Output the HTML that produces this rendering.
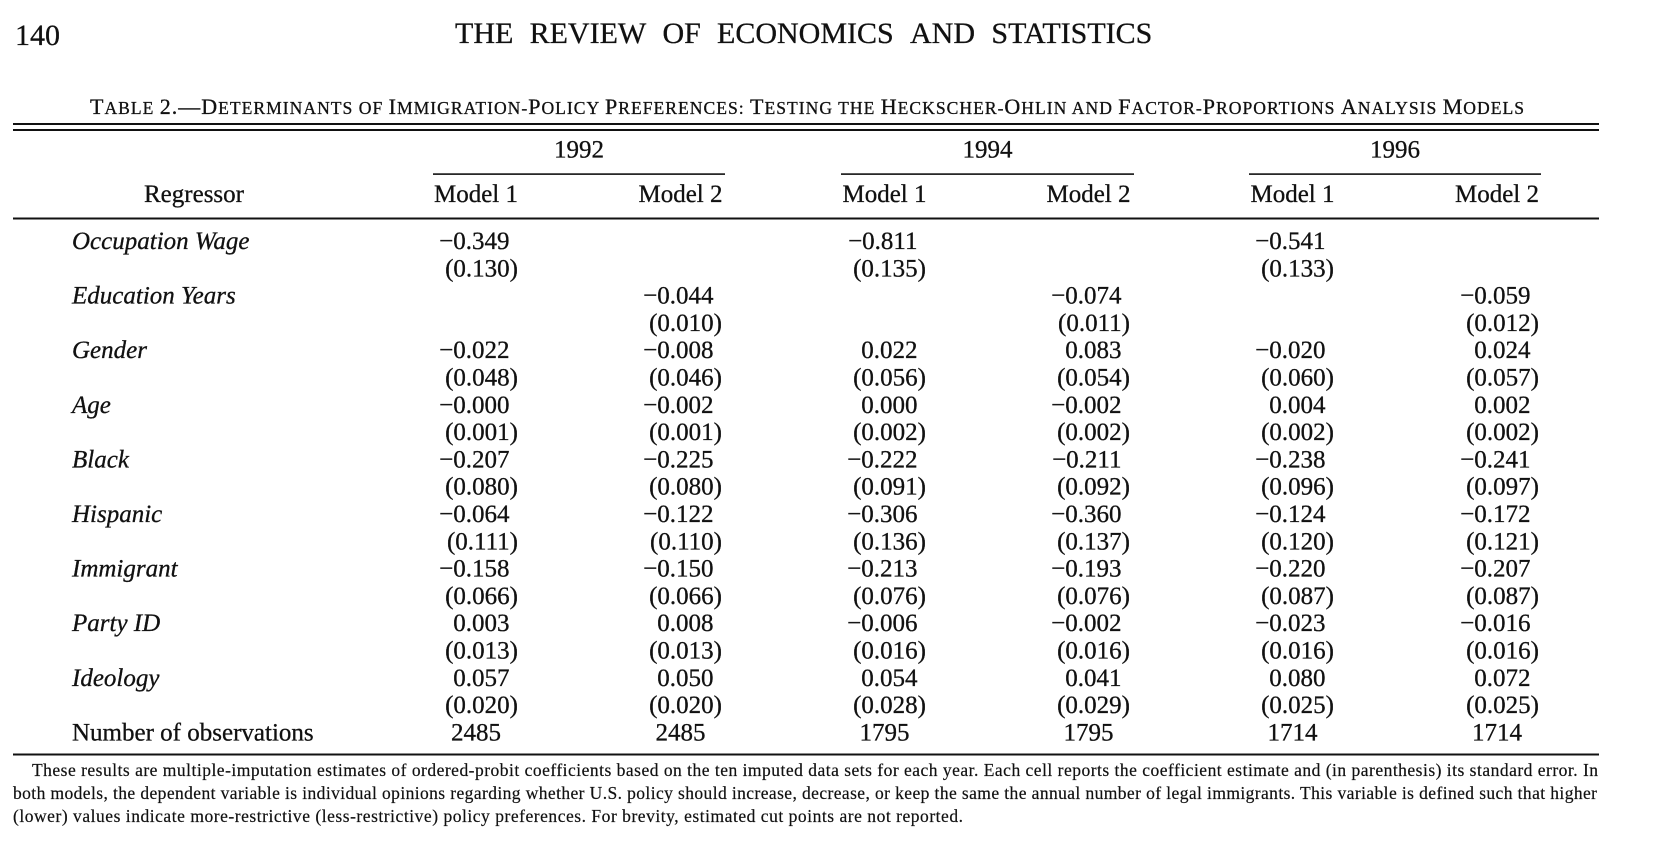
<!DOCTYPE html>
<html>
<head>
<meta charset="utf-8">
<style>
  html, body { margin:0; padding:0; background:#fff; }
  svg { display:block; }
  text { font-family: "Liberation Serif", "Times New Roman", serif; fill:#111; stroke:#111; stroke-width:0.3px; }
  .t { font-size:30px; }
  .h { font-size:25px; }
  .n { font-size:25px; }
  .i { font-size:25px; font-style:italic; }
  .f { font-size:17.5px; stroke-width:0.2px; }
  .cap { font-size:22px; }
  .sc { font-size:17.6px; }
</style>
</head>
<body>
<svg width="1674" height="863" viewBox="0 0 1674 863" xmlns="http://www.w3.org/2000/svg">
<rect width="1674" height="863" fill="#fff"/>

<!-- page header -->
<text class="t" x="15" y="45">140</text>
<text class="t" x="455" y="43">THE</text>
<text class="t" x="529.6" y="43">REVIEW</text>
<text class="t" x="662.5" y="43">OF</text>
<text class="t" x="717" y="43">ECONOMICS</text>
<text class="t" x="910" y="43">AND</text>
<text class="t" x="991.4" y="43">STATISTICS</text>

<!-- caption -->
<text x="90" y="114" textLength="1434" lengthAdjust="spacing"><tspan class="cap">T</tspan><tspan class="sc">ABLE </tspan><tspan class="cap">2.—D</tspan><tspan class="sc">ETERMINANTS OF </tspan><tspan class="cap">I</tspan><tspan class="sc">MMIGRATION-</tspan><tspan class="cap">P</tspan><tspan class="sc">OLICY </tspan><tspan class="cap">P</tspan><tspan class="sc">REFERENCES: </tspan><tspan class="cap">T</tspan><tspan class="sc">ESTING THE </tspan><tspan class="cap">H</tspan><tspan class="sc">ECKSCHER-</tspan><tspan class="cap">O</tspan><tspan class="sc">HLIN AND </tspan><tspan class="cap">F</tspan><tspan class="sc">ACTOR-</tspan><tspan class="cap">P</tspan><tspan class="sc">ROPORTIONS </tspan><tspan class="cap">A</tspan><tspan class="sc">NALYSIS </tspan><tspan class="cap">M</tspan><tspan class="sc">ODELS</tspan></text>

<!-- rules -->
<rect x="13" y="123" width="1586" height="2" fill="#111"/>
<rect x="13" y="129" width="1586" height="2" fill="#111"/>
<rect x="433" y="173.3" width="292" height="1.6" fill="#111"/>
<rect x="841" y="173.3" width="293" height="1.6" fill="#111"/>
<rect x="1249" y="173.3" width="292" height="1.6" fill="#111"/>
<rect x="13" y="217.5" width="1586" height="2" fill="#111"/>
<rect x="13" y="753.5" width="1586" height="2" fill="#111"/>

<!-- years -->
<text class="h" x="579" y="157.5" text-anchor="middle">1992</text>
<text class="h" x="987.5" y="157.5" text-anchor="middle">1994</text>
<text class="h" x="1395" y="157.5" text-anchor="middle">1996</text>

<!-- column headers -->
<text class="h" x="194" y="202" text-anchor="middle">Regressor</text>
<text class="h" x="476" y="202" text-anchor="middle">Model 1</text>
<text class="h" x="680.5" y="202" text-anchor="middle">Model 2</text>
<text class="h" x="884.5" y="202" text-anchor="middle">Model 1</text>
<text class="h" x="1088.5" y="202" text-anchor="middle">Model 2</text>
<text class="h" x="1292.5" y="202" text-anchor="middle">Model 1</text>
<text class="h" x="1497" y="202" text-anchor="middle">Model 2</text>

<!-- row labels -->
<text class="i" x="72" y="249">Occupation Wage</text>
<text class="i" x="72" y="303.6">Education Years</text>
<text class="i" x="72" y="358.2">Gender</text>
<text class="i" x="72" y="412.8">Age</text>
<text class="i" x="72" y="467.4">Black</text>
<text class="i" x="72" y="522">Hispanic</text>
<text class="i" x="72" y="576.6">Immigrant</text>
<text class="i" x="72" y="631.2">Party ID</text>
<text class="i" x="72" y="685.8">Ideology</text>
<text class="h" x="72" y="740.4">Number of observations</text>

<g text-anchor="end">
<!-- Occupation Wage -->
<text class="n" x="509.5" y="249">−0.349</text>
<text class="n" x="518" y="276.3">(0.130)</text>
<text class="n" x="917.5" y="249">−0.811</text>
<text class="n" x="926" y="276.3">(0.135)</text>
<text class="n" x="1325.5" y="249">−0.541</text>
<text class="n" x="1334" y="276.3">(0.133)</text>

<!-- Education Years -->
<text class="n" x="713.5" y="303.6">−0.044</text>
<text class="n" x="722" y="330.9">(0.010)</text>
<text class="n" x="1121.5" y="303.6">−0.074</text>
<text class="n" x="1130" y="330.9">(0.011)</text>
<text class="n" x="1530.5" y="303.6">−0.059</text>
<text class="n" x="1539" y="330.9">(0.012)</text>

<!-- Gender -->
<text class="n" x="509.5" y="358.2">−0.022</text>
<text class="n" x="518" y="385.5">(0.048)</text>
<text class="n" x="713.5" y="358.2">−0.008</text>
<text class="n" x="722" y="385.5">(0.046)</text>
<text class="n" x="917.5" y="358.2">0.022</text>
<text class="n" x="926" y="385.5">(0.056)</text>
<text class="n" x="1121.5" y="358.2">0.083</text>
<text class="n" x="1130" y="385.5">(0.054)</text>
<text class="n" x="1325.5" y="358.2">−0.020</text>
<text class="n" x="1334" y="385.5">(0.060)</text>
<text class="n" x="1530.5" y="358.2">0.024</text>
<text class="n" x="1539" y="385.5">(0.057)</text>

<!-- Age -->
<text class="n" x="509.5" y="412.8">−0.000</text>
<text class="n" x="518" y="440.1">(0.001)</text>
<text class="n" x="713.5" y="412.8">−0.002</text>
<text class="n" x="722" y="440.1">(0.001)</text>
<text class="n" x="917.5" y="412.8">0.000</text>
<text class="n" x="926" y="440.1">(0.002)</text>
<text class="n" x="1121.5" y="412.8">−0.002</text>
<text class="n" x="1130" y="440.1">(0.002)</text>
<text class="n" x="1325.5" y="412.8">0.004</text>
<text class="n" x="1334" y="440.1">(0.002)</text>
<text class="n" x="1530.5" y="412.8">0.002</text>
<text class="n" x="1539" y="440.1">(0.002)</text>

<!-- Black -->
<text class="n" x="509.5" y="467.4">−0.207</text>
<text class="n" x="518" y="494.7">(0.080)</text>
<text class="n" x="713.5" y="467.4">−0.225</text>
<text class="n" x="722" y="494.7">(0.080)</text>
<text class="n" x="917.5" y="467.4">−0.222</text>
<text class="n" x="926" y="494.7">(0.091)</text>
<text class="n" x="1121.5" y="467.4">−0.211</text>
<text class="n" x="1130" y="494.7">(0.092)</text>
<text class="n" x="1325.5" y="467.4">−0.238</text>
<text class="n" x="1334" y="494.7">(0.096)</text>
<text class="n" x="1530.5" y="467.4">−0.241</text>
<text class="n" x="1539" y="494.7">(0.097)</text>

<!-- Hispanic -->
<text class="n" x="509.5" y="522">−0.064</text>
<text class="n" x="518" y="549.3">(0.111)</text>
<text class="n" x="713.5" y="522">−0.122</text>
<text class="n" x="722" y="549.3">(0.110)</text>
<text class="n" x="917.5" y="522">−0.306</text>
<text class="n" x="926" y="549.3">(0.136)</text>
<text class="n" x="1121.5" y="522">−0.360</text>
<text class="n" x="1130" y="549.3">(0.137)</text>
<text class="n" x="1325.5" y="522">−0.124</text>
<text class="n" x="1334" y="549.3">(0.120)</text>
<text class="n" x="1530.5" y="522">−0.172</text>
<text class="n" x="1539" y="549.3">(0.121)</text>

<!-- Immigrant -->
<text class="n" x="509.5" y="576.6">−0.158</text>
<text class="n" x="518" y="603.9">(0.066)</text>
<text class="n" x="713.5" y="576.6">−0.150</text>
<text class="n" x="722" y="603.9">(0.066)</text>
<text class="n" x="917.5" y="576.6">−0.213</text>
<text class="n" x="926" y="603.9">(0.076)</text>
<text class="n" x="1121.5" y="576.6">−0.193</text>
<text class="n" x="1130" y="603.9">(0.076)</text>
<text class="n" x="1325.5" y="576.6">−0.220</text>
<text class="n" x="1334" y="603.9">(0.087)</text>
<text class="n" x="1530.5" y="576.6">−0.207</text>
<text class="n" x="1539" y="603.9">(0.087)</text>

<!-- Party ID -->
<text class="n" x="509.5" y="631.2">0.003</text>
<text class="n" x="518" y="658.5">(0.013)</text>
<text class="n" x="713.5" y="631.2">0.008</text>
<text class="n" x="722" y="658.5">(0.013)</text>
<text class="n" x="917.5" y="631.2">−0.006</text>
<text class="n" x="926" y="658.5">(0.016)</text>
<text class="n" x="1121.5" y="631.2">−0.002</text>
<text class="n" x="1130" y="658.5">(0.016)</text>
<text class="n" x="1325.5" y="631.2">−0.023</text>
<text class="n" x="1334" y="658.5">(0.016)</text>
<text class="n" x="1530.5" y="631.2">−0.016</text>
<text class="n" x="1539" y="658.5">(0.016)</text>

<!-- Ideology -->
<text class="n" x="509.5" y="685.8">0.057</text>
<text class="n" x="518" y="713.1">(0.020)</text>
<text class="n" x="713.5" y="685.8">0.050</text>
<text class="n" x="722" y="713.1">(0.020)</text>
<text class="n" x="917.5" y="685.8">0.054</text>
<text class="n" x="926" y="713.1">(0.028)</text>
<text class="n" x="1121.5" y="685.8">0.041</text>
<text class="n" x="1130" y="713.1">(0.029)</text>
<text class="n" x="1325.5" y="685.8">0.080</text>
<text class="n" x="1334" y="713.1">(0.025)</text>
<text class="n" x="1530.5" y="685.8">0.072</text>
<text class="n" x="1539" y="713.1">(0.025)</text>
</g>

<!-- observations -->
<text class="n" x="476" y="740.4" text-anchor="middle">2485</text>
<text class="n" x="680.5" y="740.4" text-anchor="middle">2485</text>
<text class="n" x="884.5" y="740.4" text-anchor="middle">1795</text>
<text class="n" x="1088.5" y="740.4" text-anchor="middle">1795</text>
<text class="n" x="1292.5" y="740.4" text-anchor="middle">1714</text>
<text class="n" x="1497" y="740.4" text-anchor="middle">1714</text>

<!-- footnote -->
<text class="f" x="32" y="776" textLength="1566" lengthAdjust="spacing">These results are multiple-imputation estimates of ordered-probit coefficients based on the ten imputed data sets for each year. Each cell reports the coefficient estimate and (in parenthesis) its standard error. In</text>
<text class="f" x="13" y="799" textLength="1584" lengthAdjust="spacing">both models, the dependent variable is individual opinions regarding whether U.S. policy should increase, decrease, or keep the same the annual number of legal immigrants. This variable is defined such that higher</text>
<text class="f" x="13" y="822" textLength="950" lengthAdjust="spacing">(lower) values indicate more-restrictive (less-restrictive) policy preferences. For brevity, estimated cut points are not reported.</text>
</svg>
</body>
</html>
